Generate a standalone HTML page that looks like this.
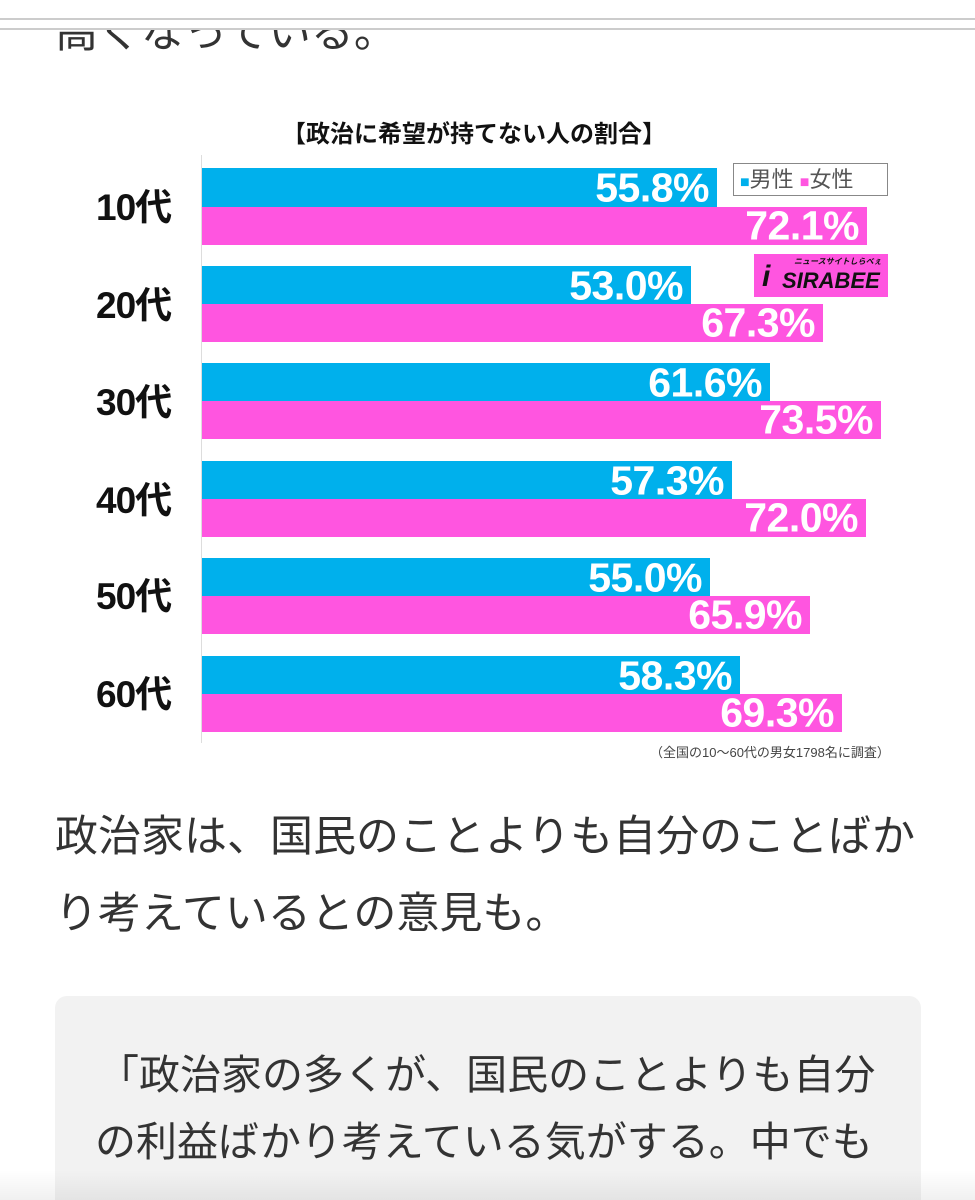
<!DOCTYPE html>
<html><head><meta charset="utf-8"><style>
*{margin:0;padding:0;box-sizing:border-box}
html,body{width:975px;height:1200px;overflow:hidden}
body{background:#fff;position:relative;font-family:"Liberation Sans","Noto Sans CJK JP",sans-serif;color:#333}
.a{position:absolute}
.bar{position:absolute;left:202px}
.b{background:#00b0ec;height:39px}
.p{background:#ff55e0;height:38px}
.v{position:absolute;right:8px;top:50%;transform:translateY(-50%);color:#fff;font-weight:bold;font-size:41px;line-height:1;letter-spacing:-0.5px}
.lab{position:absolute;left:96px;width:100px;font-weight:bold;font-size:37px;color:#111;line-height:1;letter-spacing:-1px}
.big{font-size:43px;white-space:nowrap;color:#333;line-height:1}
.q{font-size:41px;white-space:nowrap;color:#333;line-height:1}
</style></head><body>
<div class="a big" style="left:55px;top:12px;">高くなっている。</div>
<div class="a" style="left:0;top:0;width:975px;height:19px;background:#fff"></div>
<div class="a" style="left:0;top:18px;width:975px;height:2px;background:#ccc"></div>
<div class="a" style="left:0;top:28px;width:975px;height:2px;background:#ccc"></div>
<div class="a" style="left:0;top:20px;width:975px;height:8px;background:#fff"></div>

<div class="a" style="left:282px;top:114px;font-size:24px;font-weight:bold;color:#111;white-space:nowrap">【政治に希望が持てない人の割合】</div>
<div class="a" style="left:201px;top:155px;width:1px;height:588px;background:#ddd"></div>

<div class="bar b" style="top:168px;width:515px"><span class="v">55.8%</span></div>
<div class="bar p" style="top:207px;width:665px"><span class="v">72.1%</span></div>
<div class="lab" style="top:189px">10代</div>

<div class="bar b" style="top:266px;width:489px"><span class="v">53.0%</span></div>
<div class="bar p" style="top:304px;width:621px"><span class="v">67.3%</span></div>
<div class="lab" style="top:287px">20代</div>

<div class="bar b" style="top:363px;width:568px"><span class="v">61.6%</span></div>
<div class="bar p" style="top:401px;width:679px"><span class="v">73.5%</span></div>
<div class="lab" style="top:384px">30代</div>

<div class="bar b" style="top:461px;width:530px"><span class="v">57.3%</span></div>
<div class="bar p" style="top:499px;width:664px"><span class="v">72.0%</span></div>
<div class="lab" style="top:482px">40代</div>

<div class="bar b" style="top:558px;width:508px"><span class="v">55.0%</span></div>
<div class="bar p" style="top:596px;width:608px"><span class="v">65.9%</span></div>
<div class="lab" style="top:578px">50代</div>

<div class="bar b" style="top:656px;width:538px"><span class="v">58.3%</span></div>
<div class="bar p" style="top:694px;width:640px"><span class="v">69.3%</span></div>
<div class="lab" style="top:676px">60代</div>

<div class="a" style="left:733px;top:163px;width:155px;height:33px;border:1px solid #888;background:#fff;font-size:22px;color:#555;line-height:31px;padding-left:6px;white-space:nowrap"><span style="color:#00b0ec;font-size:16px">■</span>男性 <span style="color:#ff55e0;font-size:16px">■</span>女性</div>
<div class="a" style="left:754px;top:254px;width:134px;height:43px;background:#ff55e0;color:#111;font-weight:bold;font-style:italic;font-size:22px;line-height:1">
<span class="a" style="left:8px;top:8px;font-size:30px">i</span>
<span class="a" style="left:40px;top:4px;font-size:8px">ニュースサイトしらべぇ</span>
<span class="a" style="left:28px;top:16px">SIRABEE</span></div>

<div class="a" style="left:650px;top:742px;font-size:13px;color:#444;white-space:nowrap">（全国の10〜60代の男女1798名に調査）</div>

<div class="a big" style="left:55px;top:816px;">政治家は、国民のことよりも自分のことばか</div>
<div class="a big" style="left:55px;top:893px;">り考えているとの意見も。</div>

<div class="a" style="left:55px;top:996px;width:866px;height:260px;background:#f2f2f2;border-radius:12px"></div>
<div class="a q" style="left:98px;top:1055px;">「政治家の多くが、国民のことよりも自分</div>
<div class="a q" style="left:95px;top:1122px;">の利益ばかり考えている気がする。中でも</div>
<div class="a" style="left:0;top:1170px;width:975px;height:30px;background:linear-gradient(rgba(0,0,0,0),rgba(0,0,0,0.06))"></div>
</body></html>
